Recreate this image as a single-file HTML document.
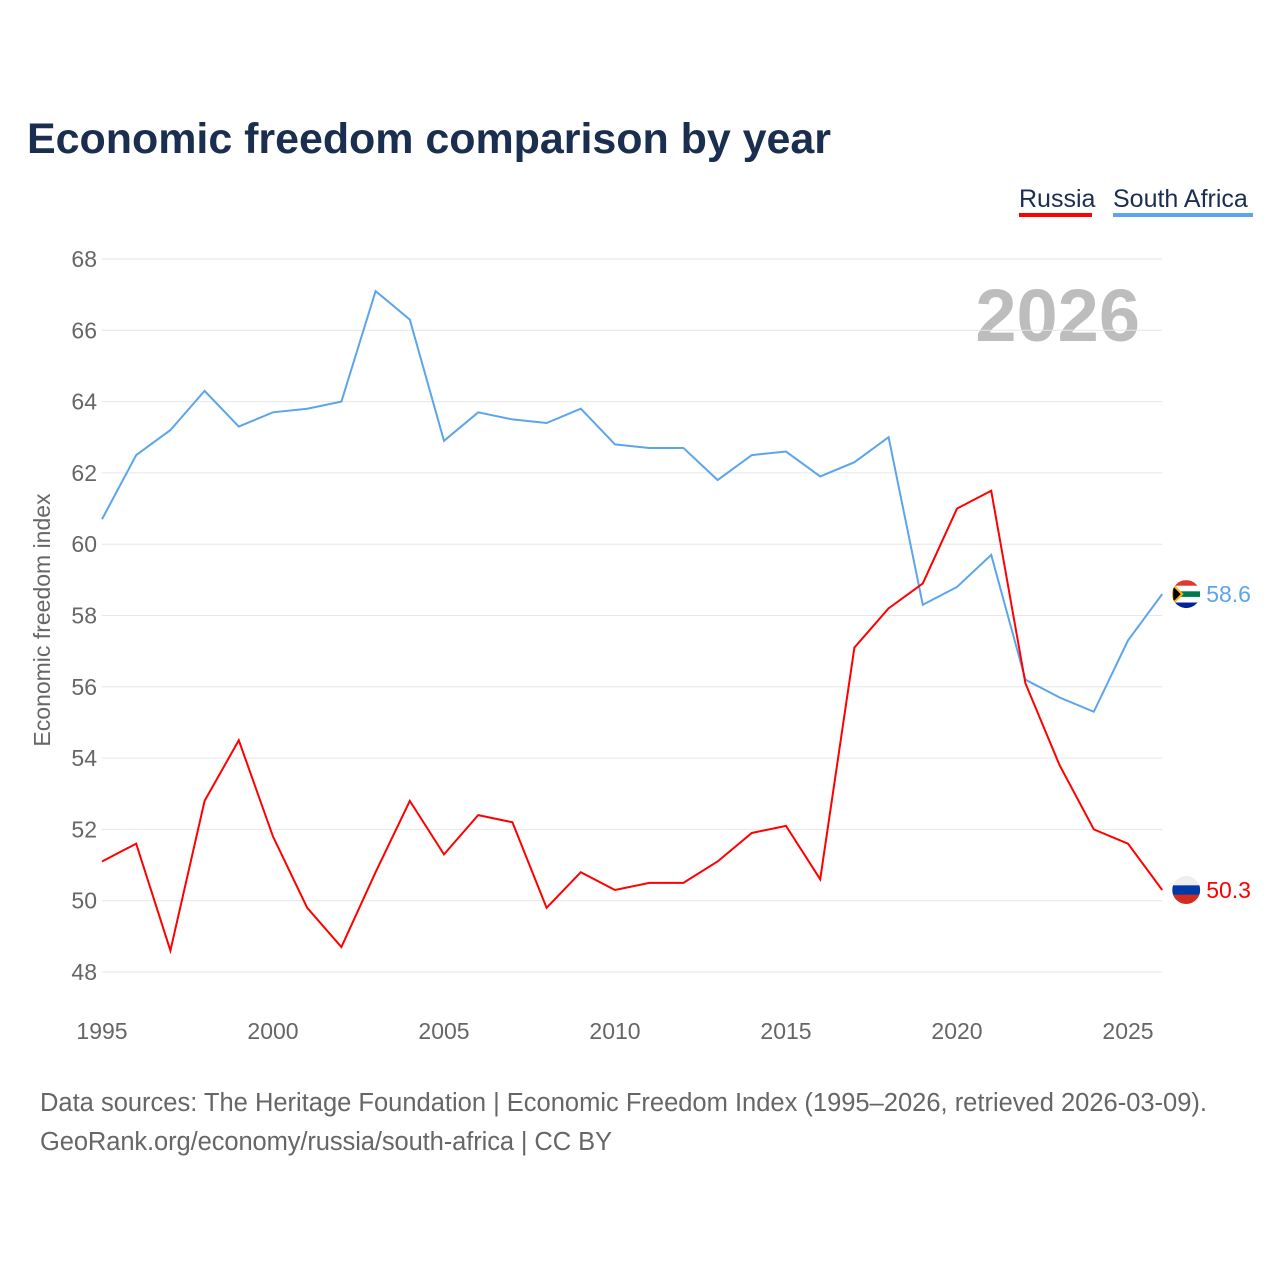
<!DOCTYPE html>
<html><head><meta charset="utf-8"><style>
body{margin:0;background:#fff;font-family:"Liberation Sans",sans-serif}
</style></head><body>
<svg id="chart" width="1280" height="1280" xmlns="http://www.w3.org/2000/svg">
<rect width="1280" height="1280" fill="#fff"/>
<text x="27" y="153" font-size="43" font-weight="bold" fill="#1a2e4f" textLength="804">Economic freedom comparison by year</text>
<g>
<text x="1019" y="207" font-size="25" fill="#1a2e4f">Russia</text>
<rect x="1019" y="213" width="73" height="4" fill="#ff0000"/>
<text x="1113" y="207" font-size="25" fill="#1a2e4f">South Africa</text>
<rect x="1113" y="213" width="140" height="4" fill="#5ba5ed"/>
</g>
<text x="1140" y="341" font-size="74" font-weight="bold" fill="#bdbdbd" text-anchor="end">2026</text>
<text transform="translate(50,620) rotate(-90)" font-size="23" fill="#666" text-anchor="middle">Economic freedom index</text>
<g id="grid"></g><g id="lines"></g>
<text x="40" y="1111" font-size="25.5" fill="#666" textLength="1167">Data sources: The Heritage Foundation | Economic Freedom Index (1995–2026, retrieved 2026-03-09).</text>
<text x="40" y="1150" font-size="25.5" fill="#666" textLength="572">GeoRank.org/economy/russia/south-africa | CC BY</text>
</svg>
<script>
const years=[1995,1996,1997,1998,1999,2000,2001,2002,2003,2004,2005,2006,2007,2008,2009,2010,2011,2012,2013,2014,2015,2016,2017,2018,2019,2020,2021,2022,2023,2024,2025,2026];
const southAfrica=[60.7,62.5,63.2,64.3,63.3,63.7,63.8,64.0,67.1,66.3,62.9,63.7,63.5,63.4,63.8,62.8,62.7,62.7,61.8,62.5,62.6,61.9,62.3,63.0,58.3,58.8,59.7,56.2,55.7,55.3,57.3,58.6];
const russia=[51.1,51.6,48.6,52.8,54.5,51.8,49.8,48.7,50.8,52.8,51.3,52.4,52.2,49.8,50.8,50.3,50.5,50.5,51.1,51.9,52.1,50.6,57.1,58.2,58.9,61.0,61.5,56.1,53.8,52.0,51.6,50.3];
const yTicks=[48,50,52,54,56,58,60,62,64,66,68];
const xTicks=[1995,2000,2005,2010,2015,2020,2025];
const NS="http://www.w3.org/2000/svg";
const X=y=>102+(y-1995)*34.2;
const Y=v=>972-(v-48)*35.65;
const grid=document.getElementById('grid'),lines=document.getElementById('lines');
function mk(t,a,p){const e=document.createElementNS(NS,t);for(const k in a)e.setAttribute(k,a[k]);p.appendChild(e);return e;}
yTicks.forEach(v=>{
 const l=mk('line',{x1:102,x2:1162,y1:Y(v),y2:Y(v),stroke:'#e6e6e6','stroke-width':1},grid);
 
 
 const t=mk('text',{x:97,y:Y(v)+8,'font-size':23,fill:'#666','text-anchor':'end'},grid);t.textContent=v;
 
 
});
xTicks.forEach(v=>{
 const t=mk('text',{x:X(v),y:1039,'font-size':23,fill:'#666','text-anchor':'middle'},grid);t.textContent=v;
 
 
});
function series(vals,color,name,flag,tri){
 const p=mk('polyline',{points:vals.map((v,i)=>X(years[i])+','+Y(v)).join(' '),fill:'none',stroke:color,'stroke-width':2},lines);
 
 
 const last=vals[vals.length-1],ly=Y(last),lx=X(years[years.length-1]);
 const g=mk('g',{},lines);
 
 
 const cx=lx+24;
 const cp=mk('clipPath',{id:'c'+name},g);mk('circle',{cx:cx,cy:ly,r:14},cp);
 const fg=mk('g',{'clip-path':'url(#c'+name+')'},g);
 flag.forEach((c,i)=>mk('rect',{x:cx-14,y:ly-14+i*28/flag.length,width:28,height:28/flag.length+0.5,fill:c},fg));
 if(tri){mk('polygon',{points:(cx-14)+','+(ly-10)+' '+(cx-4)+','+ly+' '+(cx-14)+','+(ly+10),fill:'#000',stroke:'#ffb612','stroke-width':2},fg);}
 const t=mk('text',{x:cx+20,y:ly+8,'font-size':23,fill:color},lines);t.textContent=last.toFixed(1);
 
 
}
series(southAfrica,'#5ba5ed','south-africa',['#de3831','#fff','#007a4d','#fff','#002395'],true);
series(russia,'#ff0000','russia',['#eeeeee','#0039a6','#d52b1e'],false);
</script>
</body></html>
